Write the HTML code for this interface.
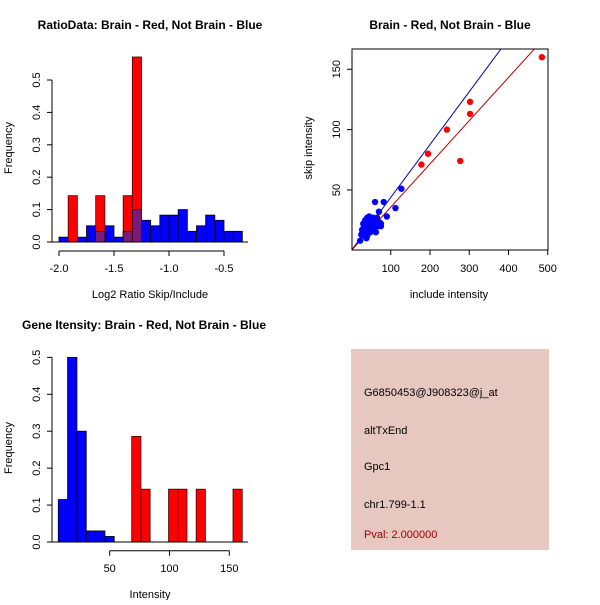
<!DOCTYPE html>
<html><head><meta charset="utf-8"><style>
body{margin:0;background:#fff;}
svg text{font-family:"Liberation Sans",sans-serif;}
</style></head><body>
<svg id="s" width="600" height="600" xmlns="http://www.w3.org/2000/svg">
<rect width="600" height="600" fill="#fff"/>
<g id="p1"></g>
<g id="p2"></g>
<g id="p3"></g>
<g id="p4">
<rect x="351" y="349" width="198" height="201" fill="#e6c8c0"/>
<text x="364" y="396" font-size="11">G6850453@J908323@j_at</text>
<text x="364" y="434" font-size="11">altTxEnd</text>
<text x="364" y="470" font-size="11">Gpc1</text>
<text x="364" y="508" font-size="11">chr1.799-1.1</text>
<text x="364" y="538" font-size="11" fill="#a00000">Pval: 2.000000</text>
</g>
</svg>
<script>
// Chart 1 data
const ratioBlue=[0.015,0,0.015,0.05,0.033,0.05,0.015,0.033,0.1,0.067,0.05,0.083,0.083,0.1,0.033,0.05,0.083,0.067,0.033,0.033];
const ratioRed=[0,0.143,0,0,0.143,0,0,0.143,0.571,0,0,0,0,0,0,0,0,0,0,0];
const ratioXTicks=[-2.0,-1.5,-1.0,-0.5];
const ratioXLabels=["-2.0","-1.5","-1.0","-0.5"];
const freqTicks=[0,0.1,0.2,0.3,0.4,0.5];
const freqLabels=["0.0","0.1","0.2","0.3","0.4","0.5"];
// Chart 2 data
const blueInc=[60,82,127,112,90,70,75,65,55,50,45,40,42,35,30,28,25,22,33,38,45,48,52,58,60,62,68,72,40,30,35,45,55,38,50,42,65,75,27,32];
const blueSkip=[40,40,51,35,28,32,22,25,27,25,28,27,22,20,18,15,13,8,12,17,20,15,18,22,16,15,20,23,12,22,25,18,20,10,22,14,27,20,17,14];
const redInc=[485,302,302,243,195,178,277];
const redSkip=[160,123,113,100,80,71,74];
const blueSlope=0.438, redSlope=0.358;
const incTicks=[100,200,300,400,500];
const skipTicks=[50,100,150];
// Chart 3 data
const intBlue=[0.115,0.5,0.3,0.03,0.03,0.015];
const intRed=[0.286,0.143,0,0,0.143,0.143,0,0.143,0,0,0,0.143];
const intTicks=[50,100,150];
const blueStart=7, blueWidth=7.8, redStart=68.4, redWidth=7.7;

const NS="http://www.w3.org/2000/svg";
function mk(parent,tag,attrs,txt){const e=document.createElementNS(NS,tag);for(const k in attrs)e.setAttribute(k,attrs[k]);if(txt!==undefined)e.textContent=txt;parent.appendChild(e);return e;}

// ---- Chart 1
(function(){
const g=document.getElementById('p1');
const X=v=>59+(v+2)*110, Y=v=>242-v*324;
const w=1/12;
ratioBlue.forEach((v,i)=>{if(v<=0)return;const r=mk(g,'rect',{x:X(-2+i*w),y:Y(v),width:X(-2+(i+1)*w)-X(-2+i*w),height:Y(0)-Y(v),fill:'#0000ff',stroke:'#000','stroke-width':0.8});

});
ratioRed.forEach((v,i)=>{if(v<=0)return;const x0=X(-2+i*w),wd=X(-2+(i+1)*w)-x0;
const r=mk(g,'rect',{x:x0,y:Y(v),width:wd,height:Y(0)-Y(v),fill:'#ff0000',stroke:'#400','stroke-width':0.8});


const o=Math.min(v,ratioBlue[i]);
if(o>0){const p=mk(g,'rect',{x:x0,y:Y(o),width:wd,height:Y(0)-Y(o),fill:'#7a1a7a',stroke:'#300','stroke-width':0.8});

}});
mk(g,'line',{x1:49,x2:248,y1:242,y2:242,stroke:'#000'});
mk(g,'line',{x1:X(-2),x2:X(-0.5),y1:251,y2:251,stroke:'#000'});
ratioXTicks.forEach((t,i)=>{mk(g,'line',{x1:X(t),x2:X(t),y1:251,y2:256,stroke:'#000'});
const tx=mk(g,'text',{x:X(t),y:272,'font-size':11,'text-anchor':'middle'},ratioXLabels[i]);

});
mk(g,'line',{x1:52,x2:52,y1:Y(0),y2:Y(0.5),stroke:'#000'});
freqTicks.forEach((t,i)=>{mk(g,'line',{x1:47,x2:52,y1:Y(t),y2:Y(t),stroke:'#000'});
const tx=mk(g,'text',{x:0,y:0,'font-size':11,'text-anchor':'middle',transform:`translate(40,${Y(t)}) rotate(-90)`},freqLabels[i]);

});
mk(g,'text',{x:150,y:29,'font-size':12,'font-weight':'bold','text-anchor':'middle'},'RatioData: Brain - Red, Not Brain - Blue');
mk(g,'text',{x:150,y:298,'font-size':11,'text-anchor':'middle'},'Log2 Ratio Skip/Include');
mk(g,'text',{x:0,y:0,'font-size':11,'text-anchor':'middle',transform:'translate(12,148) rotate(-90)'},'Frequency');
})();

// ---- Chart 2
(function(){
const g=document.getElementById('p2');
const X=v=>351.5+v*0.3925, Y=v=>250.3-v*1.207;
const cp=mk(g,'clipPath',{id:'c2'});mk(cp,'rect',{x:352,y:49,width:196,height:201});
const L=mk(g,'g',{'clip-path':'url(#c2)'});
mk(L,'line',{x1:X(0),y1:Y(0),x2:X(600),y2:Y(600*blueSlope),stroke:'#0000aa'});
mk(L,'line',{x1:X(0),y1:Y(0),x2:X(600),y2:Y(600*redSlope),stroke:'#bb0000'});
blueInc.forEach((v,i)=>{const c=mk(g,'circle',{cx:X(v),cy:Y(blueSkip[i]),r:3.2,fill:'#0000ff'});

});
redInc.forEach((v,i)=>{const c=mk(g,'circle',{cx:X(v),cy:Y(redSkip[i]),r:3.2,fill:'#ff0000'});

});
mk(g,'rect',{x:352,y:49,width:196,height:201,fill:'none',stroke:'#000'});
incTicks.forEach(t=>{mk(g,'line',{x1:X(t),x2:X(t),y1:250,y2:255,stroke:'#000'});
const tx=mk(g,'text',{x:X(t),y:272,'font-size':11,'text-anchor':'middle'},String(t));

});
skipTicks.forEach(t=>{mk(g,'line',{x1:347,x2:352,y1:Y(t),y2:Y(t),stroke:'#000'});
const tx=mk(g,'text',{x:0,y:0,'font-size':11,'text-anchor':'middle',transform:`translate(340,${Y(t)}) rotate(-90)`},String(t));

});
mk(g,'text',{x:450,y:29,'font-size':12,'font-weight':'bold','text-anchor':'middle'},'Brain - Red, Not Brain - Blue');
mk(g,'text',{x:449,y:298,'font-size':11,'text-anchor':'middle'},'include intensity');
mk(g,'text',{x:0,y:0,'font-size':11,'text-anchor':'middle',transform:'translate(312,148) rotate(-90)'},'skip intensity');
})();

// ---- Chart 3
(function(){
const g=document.getElementById('p3');
const X=v=>49.9+v*1.196, Y=v=>542-v*369.3;
intBlue.forEach((v,i)=>{if(v<=0)return;const r=mk(g,'rect',{x:X(blueStart+i*blueWidth),y:Y(v),width:blueWidth*1.196,height:Y(0)-Y(v),fill:'#0000ff',stroke:'#000','stroke-width':0.8});

});
intRed.forEach((v,i)=>{if(v<=0)return;const r=mk(g,'rect',{x:X(redStart+i*redWidth),y:Y(v),width:redWidth*1.196,height:Y(0)-Y(v),fill:'#ff0000',stroke:'#400','stroke-width':0.8});

});
mk(g,'line',{x1:49,x2:248,y1:542,y2:542,stroke:'#000'});
mk(g,'line',{x1:X(50),x2:X(150),y1:550.7,y2:550.7,stroke:'#000'});
intTicks.forEach(t=>{mk(g,'line',{x1:X(t),x2:X(t),y1:550.7,y2:555.7,stroke:'#000'});
const tx=mk(g,'text',{x:X(t),y:572,'font-size':11,'text-anchor':'middle'},String(t));

});
mk(g,'line',{x1:52,x2:52,y1:Y(0),y2:Y(0.5),stroke:'#000'});
freqTicks.forEach((t,i)=>{mk(g,'line',{x1:47,x2:52,y1:Y(t),y2:Y(t),stroke:'#000'});
const tx=mk(g,'text',{x:0,y:0,'font-size':11,'text-anchor':'middle',transform:`translate(40,${Y(t)}) rotate(-90)`},freqLabels[i]);

});
mk(g,'text',{x:144,y:329,'font-size':12,'font-weight':'bold','text-anchor':'middle'},'Gene Itensity: Brain - Red, Not Brain - Blue');
mk(g,'text',{x:150,y:598,'font-size':11,'text-anchor':'middle'},'Intensity');
mk(g,'text',{x:0,y:0,'font-size':11,'text-anchor':'middle',transform:'translate(12,448) rotate(-90)'},'Frequency');
})();
</script>
</body></html>
